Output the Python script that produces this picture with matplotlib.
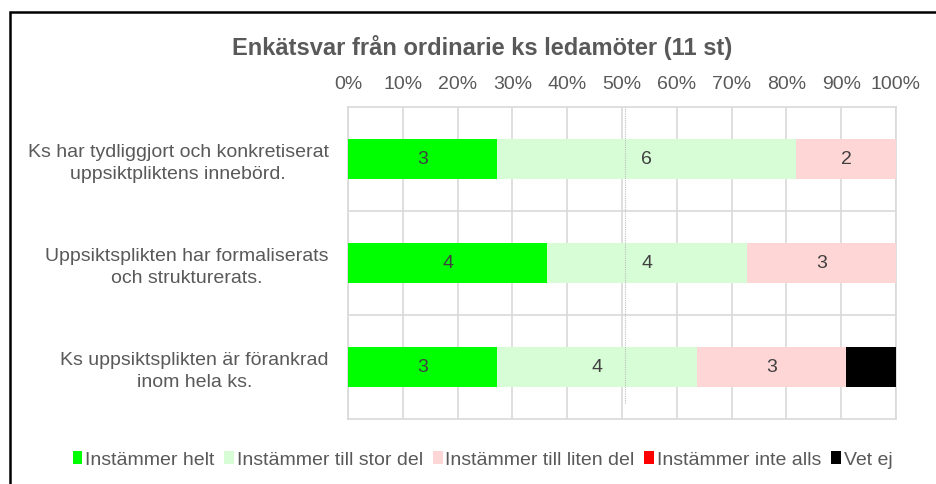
import numpy as np
import matplotlib
matplotlib.use("Agg")
import matplotlib.pyplot as plt
from matplotlib.patches import Rectangle

plt.rcParams["font.family"] = ["Liberation Sans", "DejaVu Sans"]

titel = "Enkätsvar från ordinarie ks ledamöter (11 st)"
fragor = [
    "Ks har tydliggjort och konkretiserat\nuppsiktpliktens innebörd.",
    "Uppsiktsplikten har formaliserats\noch strukturerats.",
    "Ks uppsiktsplikten är förankrad\ninom hela ks.",
]
svar = ["Instämmer helt", "Instämmer till stor del", "Instämmer till liten del",
        "Instämmer inte alls", "Vet ej"]
instammer_helt = [3, 4, 3]
till_stor_del = [6, 4, 4]
till_liten_del = [2, 3, 3]
inte_alls = [0, 0, 0]
vet_ej = [0, 0, 1]
farger = ["#00ff00", "#d6fdd6", "#ffd6d6", "#ff0000", "#000000"]
ref_linje = 0.505

serier = [instammer_helt, till_stor_del, till_liten_del, inte_alls, vet_ej]
data = np.array(serier, dtype=float)
totalt = data.sum(axis=0)
andel = data / totalt

fig = plt.figure(figsize=(9.37, 4.84), dpi=100)
ax = fig.add_axes([348 / 937, 1 - 419 / 484, 548 / 937, 312 / 484])

y = np.arange(len(fragor))
vanster = np.zeros(len(fragor))
for i, (namn, farg) in enumerate(zip(svar, farger)):
    staplar = ax.barh(y, andel[i], left=vanster, height=0.39, color=farg, label=namn, zorder=3)
    if i < 4:
        etiketter = [f"{int(v)}" if v > 0 else "" for v in data[i]]
        ax.bar_label(staplar, labels=etiketter, label_type="center", color="#404040", fontsize=14)
    vanster += andel[i]

ax.set_xlim(0, 1)
ax.set_ylim(2.5, -0.5)
ax.set_xticks(np.arange(0, 1.01, 0.1))
ax.set_xticklabels([f"{int(round(t * 100))}%" for t in np.arange(0, 1.01, 0.1)])
ax.xaxis.tick_top()
ax.tick_params(axis="x", length=0, pad=10, labelsize=14, labelcolor="#595959")
ax.set_yticks(y)
ax.set_yticklabels(fragor, multialignment="center", linespacing=1.35)
ax.tick_params(axis="y", length=0, pad=14, labelsize=14, labelcolor="#595959")
ax.set_yticks([0.5, 1.5], minor=True)
ax.tick_params(axis="y", which="minor", length=0)
ax.grid(axis="x", color="#d9d9d9", lw=1.2, zorder=0)
ax.grid(axis="y", which="minor", color="#d9d9d9", lw=1.2, zorder=0)
for s in ax.spines.values():
    s.set_color("#d9d9d9")
    s.set_linewidth(1.2)
ax.axvline(ref_linje, ymin=0.05, ymax=1, color="#bfbfbf", ls=(0, (1, 1)), lw=0.8, zorder=4)

fig.text(0.515, 1 - 47 / 484, titel, ha="center", va="center", fontsize=17,
         fontweight="bold", color="#595959")

fig.legend(loc="center", bbox_to_anchor=(0.515, 1 - 460 / 484), ncol=5, frameon=False,
           fontsize=14, handlelength=0.5, handleheight=0.6, handletextpad=0.15,
           columnspacing=0.5, labelcolor="#595959")

fig.add_artist(Rectangle((10 / 937, -0.1), 1.2, 1.1 - 12 / 484, transform=fig.transFigure,
                         fill=False, edgecolor="black", lw=1.8))

fig.savefig("out.png", dpi=100)
